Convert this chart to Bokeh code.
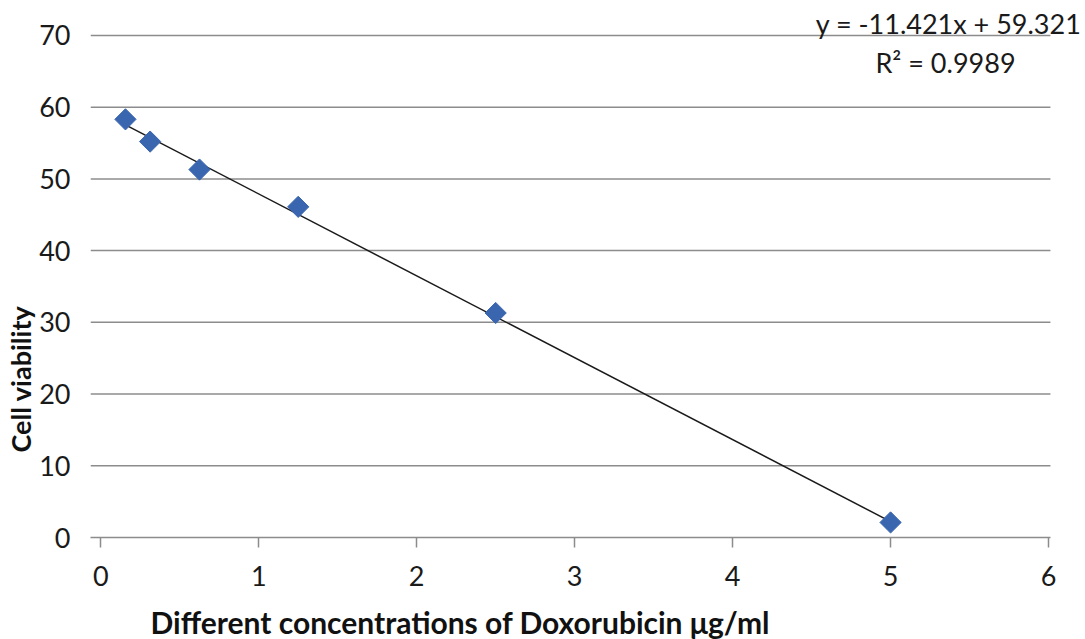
import math
from bokeh.plotting import figure
from bokeh.models import FixedTicker, Label, Range1d, Title
from bokeh.embed import file_html
from bokeh.resources import INLINE

# Data
conc = [0.15625, 0.3125, 0.625, 1.25, 2.5, 5.0]
viability = [58.3, 55.2, 51.3, 46.1, 31.3, 2.1]
slope = -11.421
intercept = 59.321
eq_text = "y = -11.421x + 59.321"
r2_text = "R\u00b2 = 0.9989"
x_ticks = [0, 1, 2, 3, 4, 5, 6]
y_ticks = [0, 10, 20, 30, 40, 50, 60, 70]
x_title = "Different concentrations of Doxorubicin \u03bcg/ml"
y_title = "Cell viability"

W, H = 1085, 639
FONT = "Lato"
BL, BB = 90, 101  # frame left / bottom borders
FRAME_BOTTOM = H - BB
GRID_COLOR = "#8c8c8c"

# plotting area extent in data units (grid lines / axis run slightly left of 0)
x_lo = x_ticks[0] - 0.065
x_hi = x_ticks[-1] + 0.012


def sx(cx):
    return cx - BL


def sy(cy):
    return FRAME_BOTTOM - cy


p = figure(width=W, height=H, output_backend="svg", toolbar_location=None,
           min_border_left=BL, min_border_right=0, min_border_top=0, min_border_bottom=BB,
           x_range=Range1d(x_lo, x_ticks[-1] + 0.234), y_range=Range1d(0, 74.87))
p.outline_line_color = None
p.background_fill_color = "white"
p.border_fill_color = "white"

# x axis
xa = p.xaxis[0]
xa.ticker = FixedTicker(ticks=x_ticks)
xa.bounds = (x_lo, x_hi)
xa.axis_line_color = GRID_COLOR
xa.axis_line_width = 1.5
xa.major_tick_line_color = GRID_COLOR
xa.major_tick_line_width = 1.5
xa.major_tick_out = 10
xa.major_tick_in = 0
xa.minor_tick_line_color = None
xa.major_label_text_font = FONT
xa.major_label_text_font_size = "27px"
xa.major_label_text_color = "#1a1a1a"
xa.major_label_standoff = 18

# y axis
ya = p.yaxis[0]
ya.ticker = FixedTicker(ticks=y_ticks)
ya.axis_line_color = None
ya.major_tick_line_color = None
ya.minor_tick_line_color = None
ya.major_label_text_font = FONT
ya.major_label_text_font_size = "27px"
ya.major_label_text_color = "#1a1a1a"
ya.major_label_standoff = 14

p.xgrid.grid_line_color = None
p.ygrid.grid_line_color = None

# horizontal grid lines
gy = y_ticks[1:]
p.segment(x0=[x_lo] * len(gy), x1=[x_hi] * len(gy), y0=gy, y1=gy,
          line_color=GRID_COLOR, line_width=1.5)

# trend line
x0, x1 = min(conc), max(conc)
p.line([x0, x1], [slope * x0 + intercept, slope * x1 + intercept],
       line_color="#1a1a1a", line_width=1.5)

# points
p.scatter(conc, viability, marker="square", size=15, angle=math.pi / 4,
          fill_color="#3a66b0", line_color="#3a66b0")


def add_label(cx, cy, text, **kw):
    lab = Label(x=sx(cx), y=sy(cy), x_units="screen", y_units="screen", text=text,
                text_baseline="middle", **kw)
    p.add_layout(lab)


# equation labels
add_label(1081, 24, eq_text, text_font=FONT, text_font_size="27px",
          text_align="right", text_color="#1a1a1a")
add_label(945, 63, r2_text, text_font=FONT, text_font_size="27px",
          text_align="center", text_color="#1a1a1a")

# axis titles (a tiny blank title acts as a spacer between x axis and its title)
p.add_layout(Title(text=" ", standoff=10, text_font_size="1px"), "below")
p.add_layout(Title(text=x_title, align="left", offset=60, standoff=0,
                   text_font=FONT, text_font_size="30px", text_font_style="bold",
                   text_color="#111111"), "below")
p.add_layout(Title(text=y_title, align="left", offset=85, standoff=0,
                   text_font=FONT, text_font_size="27px", text_font_style="bold",
                   text_color="#111111"), "left")

open("out.html", "w").write(file_html(p, INLINE))
